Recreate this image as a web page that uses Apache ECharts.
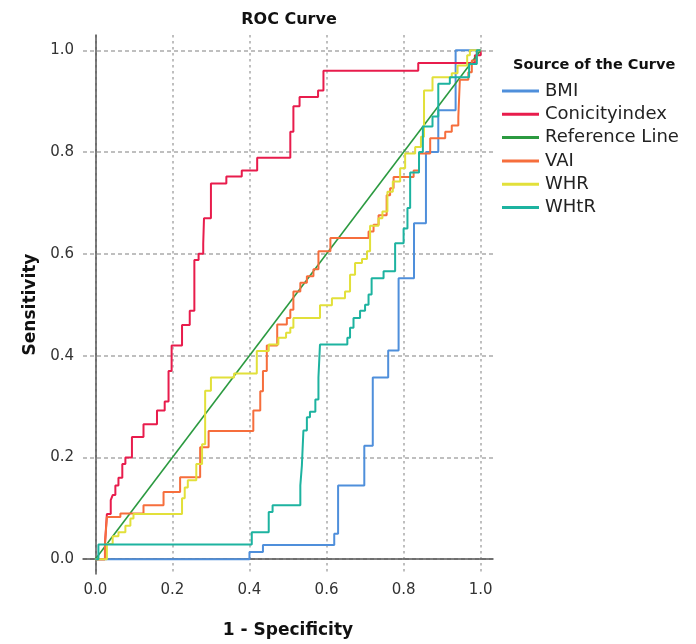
<!DOCTYPE html>
<html>
<head>
<meta charset="utf-8">
<script src="https://cdn.jsdelivr.net/npm/echarts@6/dist/echarts.min.js"></script>
<style>html,body{margin:0;background:#fff}#roc{width:696px;height:644px}</style>
</head>
<body>
<div id="roc"></div>
<script>
var ticks = [0, 0.2, 0.4, 0.6, 0.8, 1.0]
var names = ['BMI', 'Conicityindex', 'Reference Line', 'VAI', 'WHR', 'WHtR']
var colors = ['#4f8fdb', '#e81c4c', '#2b9a40', '#f66e3c', '#e2e03a', '#1db3a0']

// 1 - specificity (x) and sensitivity (y), read at each step
var bmiX = [0, 0.40, 0.435, 0.62, 0.63, 0.698, 0.72, 0.76, 0.787, 0.827, 0.858, 0.89, 0.935, 1.0]
var bmiY = [0, 0.014, 0.028, 0.05, 0.145, 0.223, 0.357, 0.41, 0.552, 0.66, 0.80, 0.882, 1.0, 1.0]

var conX = [0, 0.025, 0.03, 0.04, 0.045, 0.052, 0.06, 0.07, 0.078, 0.095, 0.125, 0.16, 0.18, 0.19, 0.198, 0.225, 0.245, 0.257, 0.268, 0.28, 0.282, 0.30, 0.34, 0.38, 0.42, 0.506, 0.514, 0.53, 0.578, 0.592, 0.838, 0.985, 1.0]
var conY = [0, 0.03, 0.089, 0.116, 0.126, 0.145, 0.16, 0.187, 0.2, 0.24, 0.265, 0.292, 0.31, 0.37, 0.42, 0.46, 0.488, 0.588, 0.6, 0.62, 0.67, 0.738, 0.752, 0.764, 0.789, 0.84, 0.89, 0.908, 0.921, 0.96, 0.975, 0.99, 1.0]

var refX = [0, 1]
var refY = [0, 1]

var vaiX = [0, 0.025, 0.03, 0.065, 0.125, 0.177, 0.22, 0.272, 0.294, 0.41, 0.428, 0.435, 0.445, 0.472, 0.497, 0.506, 0.514, 0.532, 0.549, 0.566, 0.579, 0.61, 0.709, 0.722, 0.735, 0.756, 0.765, 0.774, 0.826, 0.84, 0.869, 0.908, 0.925, 0.942, 0.946, 0.968, 0.977, 0.99, 1.0]
var vaiY = [0, 0.03, 0.083, 0.09, 0.106, 0.132, 0.161, 0.22, 0.252, 0.292, 0.33, 0.37, 0.42, 0.461, 0.474, 0.49, 0.526, 0.543, 0.556, 0.57, 0.605, 0.631, 0.644, 0.657, 0.676, 0.715, 0.729, 0.751, 0.764, 0.797, 0.827, 0.84, 0.852, 0.869, 0.942, 0.957, 0.98, 1.0, 1.0]

var whrX = [0, 0.03, 0.045, 0.06, 0.078, 0.091, 0.099, 0.225, 0.232, 0.24, 0.262, 0.277, 0.285, 0.30, 0.36, 0.419, 0.45, 0.475, 0.495, 0.506, 0.514, 0.583, 0.614, 0.648, 0.661, 0.674, 0.692, 0.705, 0.713, 0.735, 0.745, 0.758, 0.772, 0.791, 0.804, 0.83, 0.845, 0.853, 0.875, 0.925, 0.94, 0.965, 0.972, 1.0]
var whrY = [0, 0.03, 0.045, 0.053, 0.066, 0.08, 0.089, 0.12, 0.141, 0.155, 0.187, 0.226, 0.331, 0.357, 0.365, 0.409, 0.422, 0.435, 0.445, 0.455, 0.474, 0.499, 0.513, 0.526, 0.559, 0.582, 0.59, 0.605, 0.655, 0.67, 0.683, 0.722, 0.742, 0.768, 0.797, 0.81, 0.83, 0.921, 0.947, 0.955, 0.97, 0.99, 1.0, 1.0]

var whtrX = [0, 0.008, 0.406, 0.45, 0.46, 0.532, 0.536, 0.54, 0.549, 0.557, 0.571, 0.579, 0.583, 0.654, 0.661, 0.67, 0.687, 0.70, 0.709, 0.717, 0.748, 0.778, 0.80, 0.81, 0.817, 0.84, 0.85, 0.875, 0.89, 0.92, 0.97, 0.99, 1.0]
var whtrY = [0, 0.029, 0.053, 0.093, 0.106, 0.145, 0.184, 0.253, 0.279, 0.29, 0.314, 0.357, 0.422, 0.435, 0.455, 0.474, 0.488, 0.50, 0.52, 0.552, 0.566, 0.621, 0.65, 0.69, 0.76, 0.80, 0.85, 0.87, 0.934, 0.947, 0.973, 1.0, 1.0]

function pts(xs, ys) {
    return xs.map(function (x, i) { return [x, ys[i]] })
}

function curve(i, xs, ys) {
    return {
        name: names[i],
        type: 'line',
        step: xs.length > 2 ? 'end' : false,
        showSymbol: false,
        silent: true,
        data: pts(xs, ys),
        lineStyle: { color: colors[i], width: i == 2 ? 1.6 : 2 },
        itemStyle: { color: colors[i] }
    }
}

var chart = echarts.init(document.getElementById('roc'))
chart.setOption({
    animation: false,
    title: [{
        text: 'ROC Curve',
        left: 284,
        top: 7,
        textAlign: 'center',
        textStyle: { fontFamily: 'DejaVu Sans', fontSize: 16, fontWeight: 'bold', color: '#111' }
    }, {
        text: 'Source of the Curve',
        left: 508,
        top: 53,
        textStyle: { fontFamily: 'DejaVu Sans', fontSize: 14.5, fontWeight: 'bold', color: '#111' }
    }],
    legend: {
        orient: 'vertical',
        left: 502,
        top: 81,
        padding: 0,
        itemGap: 3.3,
        itemWidth: 37,
        itemHeight: 3,
        icon: 'rect',
        data: names,
        textStyle: { fontFamily: 'DejaVu Sans', fontSize: 18, lineHeight: 20, color: '#222', padding: [0, 0, 0, 1] }
    },
    grid: { left: 83, top: 35, width: 410, height: 542 },
    xAxis: {
        type: 'value',
        min: -0.032,
        max: 1.032,
        name: '1 - Specificity',
        nameLocation: 'middle',
        nameGap: 48,
        nameTextStyle: { fontFamily: 'DejaVu Sans', fontSize: 17, fontWeight: 'bold', color: '#111' },
        axisLine: { lineStyle: { color: '#555', width: 1.5 } },
        axisTick: { show: false, customValues: ticks },
        axisLabel: {
            customValues: ticks,
            margin: 9,
            fontFamily: 'DejaVu Sans', fontSize: 15, color: '#333',
            formatter: function (v) { return v.toFixed(1) }
        },
        splitLine: { show: true, lineStyle: { color: '#aaa', width: 1.5, type: [2.5, 3.5] } }
    },
    yAxis: {
        type: 'value',
        min: -0.029,
        max: 1.03,
        name: 'Sensitivity',
        nameLocation: 'middle',
        nameGap: 44,
        nameRotate: 90,
        nameTextStyle: { fontFamily: 'DejaVu Sans', fontSize: 17, fontWeight: 'bold', color: '#111' },
        axisLine: { show: true, lineStyle: { color: '#555', width: 1.5 } },
        axisTick: { show: false, customValues: ticks },
        axisLabel: {
            customValues: ticks,
            margin: 9,
            fontFamily: 'DejaVu Sans', fontSize: 15, color: '#333',
            formatter: function (v) { return v.toFixed(1) }
        },
        splitLine: { show: true, lineStyle: { color: '#aaa', width: 1.5, type: [4, 3] } }
    },
    series: [
        curve(0, bmiX, bmiY),
        curve(1, conX, conY),
        curve(2, refX, refY),
        curve(3, vaiX, vaiY),
        curve(4, whrX, whrY),
        curve(5, whtrX, whtrY)
    ]
})
</script>
</body>
</html>
